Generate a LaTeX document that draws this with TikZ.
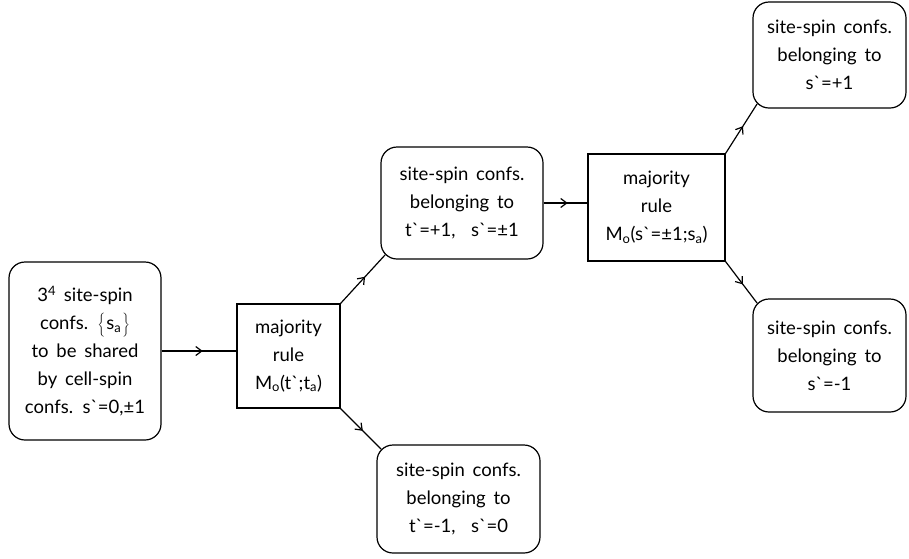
\documentclass[tikz,border=0pt]{standalone}
\usepackage{fontspec}
\setmainfont{Lato}[Ligatures=TeXOff]
\usetikzlibrary{arrows.meta,decorations.markings,calc}

\newcommand{\boxfont}{\fontsize{18.5}{28}\selectfont\spaceskip=0.42em\relax}
\newcommand{\setof}[1]{\smash{$\left\{\vrule height 13pt depth 9pt width 0pt\right.$}#1\smash{$\left.\vrule height 13pt depth 9pt width 0pt\right\}$}}
\tikzstyle{conf} = [draw, rounded corners=16pt, align=center, inner sep=0pt]
\tikzstyle{rule} = [draw, align=center, inner sep=0pt]
\tikzstyle{flow} = [postaction={decorate}, decoration={markings,
    mark=at position 0.55 with {\arrow{Straight Barb[length=6pt,width=9pt]}}}]

\begin{document}
\begin{tikzpicture}[x=1pt, y=-1pt, line width=1.2pt,
    every node/.style={font=\boxfont}]
\useasboundingbox (0,0) rectangle (909,558);
%begin site-spin confs
\node[conf, minimum width=152pt, minimum height=178pt] (src) at (85,351)
    {3\textsuperscript{4} site-spin\\confs. \setof{s\textsubscript{a}}\\to be shared\\by cell-spin\\confs. s`=0,±1};
%end site-spin confs
%begin level1
\node[rule, minimum width=103pt, minimum height=104pt] (maj1) at (288.5,356)
    {majority\\rule\\M\textsubscript{o}(t`;t\textsubscript{a})};
\node[conf, minimum width=162pt, minimum height=112pt] (up1) at (462,203)
    {site-spin confs.\\belonging to\\t`=+1,\ \ s`=±1};
\node[conf, minimum width=163pt, minimum height=108pt] (dn1) at (458.5,499)
    {site-spin confs.\\belonging to\\t`=-1,\ \ s`=0};
%end level1
%begin level2
\node[rule, minimum width=137pt, minimum height=107pt] (maj2) at (656.5,207.5)
    {majority\\rule\\M\textsubscript{o}(s`=±1;s\textsubscript{a})};
\node[conf, minimum width=153pt, minimum height=106pt] (up2) at (829.5,55)
    {site-spin confs.\\belonging to\\s`=+1};
\node[conf, minimum width=153pt, minimum height=113pt] (dn2) at (829.5,355.5)
    {site-spin confs.\\belonging to\\s`=-1};
%end level2
%arrows
\draw[flow] (src.east) -- (src.east -| maj1.west);
\draw[flow] (maj1.north east) -- ($(up1.south west)+(4.7,-4.7)$);
\draw[flow] (maj1.south east) -- ($(dn1.north west)+(4.7,4.7)$);
\draw[flow] (up1.east) -- (up1.east -| maj2.west);
\draw[flow] (maj2.north east) -- ($(up2.south west)+(4.7,-4.7)$);
\draw[flow] (maj2.south east) -- ($(dn2.north west)+(4.7,4.7)$);
\end{tikzpicture}
\end{document}
